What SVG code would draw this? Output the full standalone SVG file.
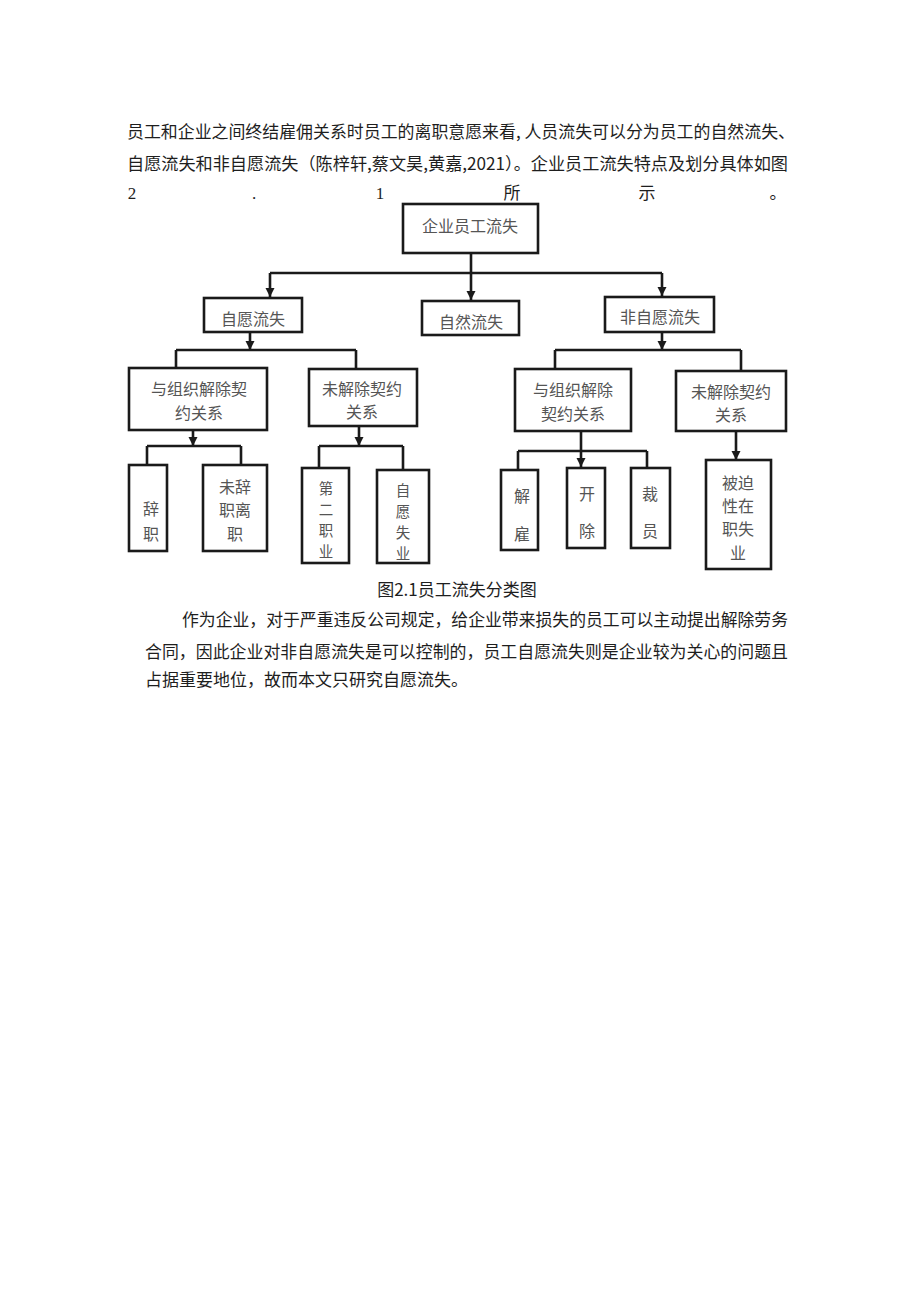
<svg xmlns="http://www.w3.org/2000/svg" width="920" height="1301" viewBox="0 0 920 1301">
<defs>
<style>
.body{font-family:"Noto Sans CJK SC","Liberation Sans",sans-serif;font-size:17px;fill:#1e1e1e}
.num{font-family:"Liberation Serif","Noto Sans CJK SC",serif;font-size:17px;fill:#1e1e1e}
.box{fill:#fff;stroke:#1a1a1a;stroke-width:2.6}
.lbl{font-family:"Noto Sans CJK SC",sans-serif;font-size:16px;fill:#555;text-anchor:middle;dominant-baseline:central}
.sm{font-size:14.5px}
.ln{fill:none;stroke:#1a1a1a;stroke-width:2.6}
</style>
<marker id="arr" markerUnits="userSpaceOnUse" markerWidth="12" markerHeight="12" viewBox="0 0 12 12" refX="11" refY="6" orient="auto">
<path d="M2 1.5 L2 10.5 L11 6 Z" fill="#1a1a1a"/>
</marker>
</defs>
<rect width="920" height="1301" fill="#fff"/>

<g id="intro-text">
<text class="body" x="127" y="138" textLength="668" lengthAdjust="spacingAndGlyphs">员工和企业之间终结雇佣关系时员工的离职意愿来看, 人员流失可以分为员工的自然流失、</text>
<text class="body" x="127" y="170" textLength="661" lengthAdjust="spacingAndGlyphs">自愿流失和非自愿流失（陈梓轩,蔡文昊,黄嘉,2021）。企业员工流失特点及划分具体如图</text>
<text class="num" x="132" y="199" text-anchor="middle">2</text>
<text class="num" x="254" y="199" text-anchor="middle">.</text>
<text class="num" x="380" y="199" text-anchor="middle">1</text>
<text class="body" x="512" y="199" text-anchor="middle">所</text>
<text class="body" x="647" y="199" text-anchor="middle">示</text>
<text class="body" x="778" y="199" text-anchor="middle">。</text>
</g>

<g id="connectors">
<path class="ln" d="M471 253 V300" marker-end="url(#arr)"/>
<path class="ln" d="M270 273 H662"/>
<path class="ln" d="M270 273 V297" marker-end="url(#arr)"/>
<path class="ln" d="M662 273 V296" marker-end="url(#arr)"/>
<path class="ln" d="M250 332 V350" marker-end="url(#arr)"/>
<path class="ln" d="M176 350 H356 M176 350 V368 M356 350 V369"/>
<path class="ln" d="M662 332 V350" marker-end="url(#arr)"/>
<path class="ln" d="M555 350 H741 M555 350 V369 M741 350 V371"/>
<path class="ln" d="M193 430 V446" marker-end="url(#arr)"/>
<path class="ln" d="M147 446 H241 M147 446 V465 M241 446 V465"/>
<path class="ln" d="M359 426 V446" marker-end="url(#arr)"/>
<path class="ln" d="M319 446 H403 M319 446 V468 M403 446 V470"/>
<path class="ln" d="M581 431 V467" marker-end="url(#arr)"/>
<path class="ln" d="M518 451 H647 M518 451 V470 M647 451 V468"/>
<path class="ln" d="M736 431 V460" marker-end="url(#arr)"/>
</g>

<g id="n-root"><rect class="box" x="403" y="204" width="135" height="49"/><text class="lbl" x="470" y="225">企业员工流失</text></g>
<g id="n-voluntary"><rect class="box" x="204" y="298" width="98" height="34"/><text class="lbl" x="253" y="318">自愿流失</text></g>
<g id="n-natural"><rect class="box" x="422" y="301" width="97" height="34"/><text class="lbl" x="471" y="321">自然流失</text></g>
<g id="n-involuntary"><rect class="box" x="605" y="297" width="109" height="35"/><text class="lbl" x="660" y="316">非自愿流失</text></g>

<g id="n-v-terminated"><rect class="box" x="129" y="368" width="138" height="62"/><text class="lbl" x="199" y="388">与组织解除契</text><text class="lbl" x="199" y="412">约关系</text></g>
<g id="n-v-notterminated"><rect class="box" x="309" y="369" width="108" height="57"/><text class="lbl" x="362" y="388">未解除契约</text><text class="lbl" x="362" y="411">关系</text></g>
<g id="n-i-terminated"><rect class="box" x="515" y="369" width="116" height="62"/><text class="lbl" x="573" y="389">与组织解除</text><text class="lbl" x="573" y="413">契约关系</text></g>
<g id="n-i-notterminated"><rect class="box" x="676" y="371" width="110" height="60"/><text class="lbl" x="731" y="391">未解除契约</text><text class="lbl" x="731" y="414">关系</text></g>

<g id="n-resign"><rect class="box" x="129" y="465" width="38" height="86"/><text class="lbl" x="151" y="508">辞</text><text class="lbl" x="151" y="533">职</text></g>
<g id="n-leave"><rect class="box" x="203" y="465" width="64" height="86"/><text class="lbl" x="235" y="486">未辞</text><text class="lbl" x="235" y="509">职离</text><text class="lbl" x="235" y="533">职</text></g>
<g id="n-second"><rect class="box" x="302" y="468" width="47" height="95"/><text class="lbl sm" x="326" y="487">第</text><text class="lbl sm" x="326" y="508">二</text><text class="lbl sm" x="326" y="529">职</text><text class="lbl sm" x="326" y="550">业</text></g>
<g id="n-unemployed"><rect class="box" x="377" y="470" width="52" height="93"/><text class="lbl sm" x="403" y="489">自</text><text class="lbl sm" x="403" y="510">愿</text><text class="lbl sm" x="403" y="531">失</text><text class="lbl sm" x="403" y="552">业</text></g>
<g id="n-dismiss"><rect class="box" x="501" y="470" width="37" height="80"/><text class="lbl" x="522" y="495">解</text><text class="lbl" x="522" y="533">雇</text></g>
<g id="n-fire"><rect class="box" x="567" y="468" width="38" height="80"/><text class="lbl" x="587" y="493">开</text><text class="lbl" x="587" y="530">除</text></g>
<g id="n-layoff"><rect class="box" x="631" y="468" width="39" height="80"/><text class="lbl" x="650" y="493">裁</text><text class="lbl" x="650" y="530">员</text></g>
<g id="n-forced"><rect class="box" x="706" y="460" width="65" height="109"/><text class="lbl" x="738" y="482">被迫</text><text class="lbl" x="738" y="505">性在</text><text class="lbl" x="738" y="528">职失</text><text class="lbl" x="738" y="552">业</text></g>

<g id="caption-text">
<text class="body" x="457" y="596" text-anchor="middle" font-size="16">图2.1员工流失分类图</text>
<text class="body" x="182" y="626" textLength="606" lengthAdjust="spacingAndGlyphs">作为企业，对于严重违反公司规定，给企业带来损失的员工可以主动提出解除劳务</text>
<text class="body" x="145" y="658" textLength="643" lengthAdjust="spacingAndGlyphs">合同，因此企业对非自愿流失是可以控制的，员工自愿流失则是企业较为关心的问题且</text>
<text class="body" x="145" y="686">占据重要地位，故而本文只研究自愿流失。</text>
</g>
</svg>
